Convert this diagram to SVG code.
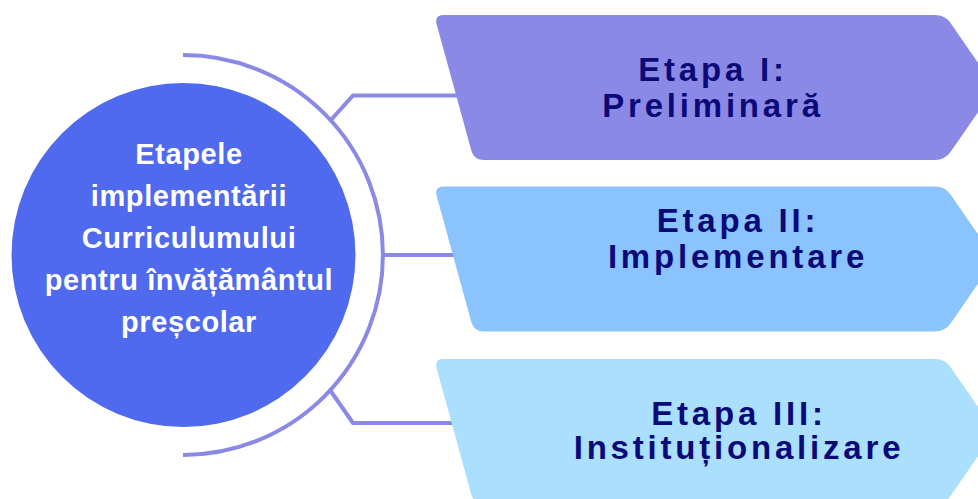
<svg xmlns="http://www.w3.org/2000/svg" width="978" height="499" viewBox="0 0 978 499">
  <style>
    .lnk { fill: none; stroke: #8B89E6; stroke-width: 4; stroke-linejoin: round; }
    .st { font-family: "Liberation Sans", Arial, sans-serif; font-weight: bold; font-size: 33px; letter-spacing: 3.8px; fill: #0B0A78; text-anchor: middle; }
    .ct { font-family: "Liberation Sans", Arial, sans-serif; font-weight: bold; font-size: 29px; letter-spacing: 0.6px; fill: #FFFFFF; text-anchor: middle; }
  </style>
  <defs>
    <path id="chev" d="M 436.7 24.6 Q 434 15 444 15 L 935 15 Q 945 15 950.7 23.2 L 995 87.5 L 950.7 151.8 Q 945 160 935 160 L 484 160 Q 474 160 471.3 150.4 Z"/>
  </defs>
  <rect width="978" height="499" fill="#FFFFFF"/>
  <g id="connectors">
    <path class="lnk" d="M 183 55 A 200 200 0 0 1 183 455"/>
    <path class="lnk" d="M 330 121 L 353 95.5 L 460 95.5"/>
    <path class="lnk" d="M 383 255 L 460 255"/>
    <path class="lnk" d="M 330 390 L 353 423 L 460 423"/>
  </g>
  <g id="center">
    <circle cx="183.5" cy="255" r="172" fill="#4F69EF"/>
    <text class="ct" x="189" y="164">Etapele</text>
    <text class="ct" x="189" y="206">implementării</text>
    <text class="ct" x="189" y="248">Curriculumului</text>
    <text class="ct" x="189" y="290">pentru învățământul</text>
    <text class="ct" x="189" y="332">preșcolar</text>
  </g>
  <g id="etapa1">
    <use href="#chev" fill="#8B89E6"/>
    <text class="st" x="713" y="81">Etapa I:</text>
    <text class="st" x="713" y="117">Preliminară</text>
  </g>
  <g id="etapa2">
    <use href="#chev" transform="translate(0,171.5)" fill="#8AC3FD"/>
    <text class="st" x="738" y="232">Etapa II:</text>
    <text class="st" x="738" y="268">Implementare</text>
  </g>
  <g id="etapa3">
    <use href="#chev" transform="translate(0,344)" fill="#AADFFD"/>
    <text class="st" x="739" y="425">Etapa III:</text>
    <text class="st" x="739" y="459">Instituționalizare</text>
  </g>
</svg>
